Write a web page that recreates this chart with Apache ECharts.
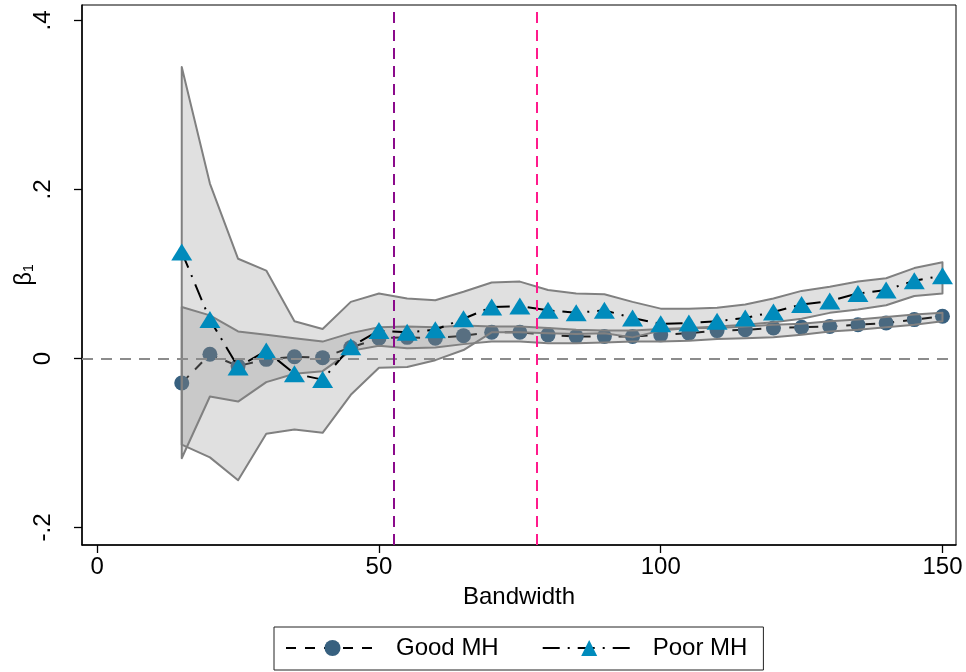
<!DOCTYPE html>
<html><head><meta charset="utf-8">
<script src="https://cdn.jsdelivr.net/npm/echarts@6/dist/echarts.min.js"></script>
<style>html,body{margin:0;padding:0;background:#fff}#c{width:966px;height:672px}</style>
</head><body><div id="c"></div>
<script>
const bandwidth = [15,20,25,30,35,40,45,50,55,60,65,70,75,80,85,90,95,100,105,110,115,120,125,130,135,140,145,150];
const goodMH    = [-0.029,0.005,-0.009,-0.001,0.002,0.001,0.013,0.024,0.025,0.024,0.027,0.031,0.031,0.028,0.026,0.026,0.026,0.028,0.030,0.033,0.034,0.036,0.037,0.038,0.040,0.042,0.046,0.050];
const poorMH    = [0.126,0.046,-0.010,0.009,-0.018,-0.025,0.014,0.033,0.031,0.034,0.047,0.061,0.062,0.057,0.054,0.057,0.048,0.041,0.042,0.044,0.048,0.055,0.064,0.068,0.077,0.081,0.092,0.098];
const goodUpper = [0.061,0.051,0.032,0.028,0.024,0.020,0.030,0.037,0.038,0.037,0.039,0.038,0.038,0.036,0.034,0.033,0.033,0.035,0.036,0.036,0.038,0.040,0.041,0.044,0.046,0.049,0.052,0.054];
const goodLower = [-0.118,-0.045,-0.051,-0.028,-0.018,-0.015,0.009,0.015,0.012,0.013,0.017,0.020,0.020,0.018,0.018,0.019,0.020,0.020,0.021,0.023,0.024,0.025,0.028,0.032,0.034,0.037,0.040,0.044];
const poorUpper = [0.345,0.207,0.118,0.104,0.044,0.035,0.067,0.077,0.071,0.069,0.079,0.090,0.091,0.081,0.077,0.076,0.067,0.059,0.059,0.060,0.064,0.071,0.080,0.085,0.091,0.095,0.107,0.114];
const poorLower = [-0.102,-0.117,-0.144,-0.089,-0.084,-0.088,-0.043,-0.011,-0.010,-0.002,0.010,0.031,0.031,0.030,0.029,0.030,0.025,0.033,0.036,0.038,0.040,0.043,0.047,0.054,0.058,0.063,0.074,0.077];
const xTicks = [0,50,100,150];
const yTicks = [-0.2,0,0.2,0.4];
const yTickLabels = ['-.2','0','.2','.4'];
const refLineLeft = 52.7;
const refLineRight = 78;
const seriesNames = ['Good MH','Poor MH'];

const FONT = "'Liberation Sans', Arial, Helvetica, sans-serif";
const chart = echarts.init(document.getElementById('c'), null, {renderer:'canvas'});

function band(lo, hi) {
  return {
    type:'custom', coordinateSystem:'cartesian2d', silent:true, z:3,
    data:[[bandwidth[0], lo[0]]], encode:{x:0,y:1},
    renderItem: function(params, api){
      const pts = [];
      for (let i=0;i<bandwidth.length;i++) pts.push(api.coord([bandwidth[i], hi[i]]));
      for (let i=bandwidth.length-1;i>=0;i--) pts.push(api.coord([bandwidth[i], lo[i]]));
      return {type:'polygon', shape:{points:pts},
        style:{fill:'rgba(130,130,130,0.25)', stroke:'#808080', lineWidth:2, lineJoin:'round'}};
    }
  };
}
const pairs = (ys) => bandwidth.map((x,i)=>[x, ys[i]]);

chart.setOption({
  backgroundColor:'#fff',
  animation:false,
  grid:{left:82, right:10, top:5, bottom:127, outerBoundsMode:'none', containLabel:false,
    show:true, borderColor:'#000', borderWidth:1, backgroundColor:'#fff'},
  xAxis:{
    type:'value', min:-2.7, max:152.4,
    name:'Bandwidth', nameLocation:'middle', nameGap:40, nameMoveOverlap:false,
    nameTextStyle:{fontSize:24, color:'#000', fontFamily:FONT},
    axisLine:{show:true, onZero:false, lineStyle:{color:'#000', width:1.5}},
    axisTick:{show:true, length:8, lineStyle:{color:'#000', width:1.3}, customValues:xTicks},
    axisLabel:{fontSize:24, color:'#000', fontFamily:FONT, margin:10, customValues:xTicks},
    splitLine:{show:false}
  },
  yAxis:{
    type:'value', min:-0.2207, max:0.4183,
    name:'{b|β}{s|1}', nameLocation:'middle', nameGap:46, nameRotate:90, nameMoveOverlap:false,
    nameTextStyle:{rich:{
      b:{fontSize:24, color:'#000', fontFamily:FONT},
      s:{fontSize:14, color:'#000', fontFamily:FONT, padding:[10,0,0,0]}
    }},
    axisLine:{show:true, onZero:false, lineStyle:{color:'#000', width:1.5}},
    axisTick:{show:true, length:8, lineStyle:{color:'#000', width:1.3}, customValues:yTicks},
    axisLabel:{fontSize:24, color:'#000', fontFamily:FONT, margin:27, rotate:90, customValues:yTicks,
      formatter:(v)=>{ const i = yTicks.findIndex(t=>Math.abs(t-v)<1e-9); return i>=0?yTickLabels[i]:''; }},
    splitLine:{show:false}
  },
  legend:{
    data:seriesNames, left:274, top:627,
    padding:[9,16,10,11], itemWidth:93, itemHeight:20, itemGap:43,
    borderColor:'#222', borderWidth:1,
    textStyle:{fontSize:24, color:'#000', fontFamily:FONT, padding:[0,0,0,12]}
  },
  series:[
    {
      name:seriesNames[0], type:'line', z:2, data:pairs(goodMH),
      symbol:'circle', symbolSize:15,
      itemStyle:{color:'#37607f'},
      lineStyle:{color:'#000', width:2, type:[10,9]}
    },
    band(goodLower, goodUpper),
    band(poorLower, poorUpper),
    {
      type:'line', z:3, data:pairs(goodMH), symbol:'none', silent:true,
      lineStyle:{opacity:0},
      markLine:{silent:true, symbol:'none', label:{show:false}, animation:false,
        data:[
          {yAxis:0, lineStyle:{color:'#8c8c8c', width:2, type:[11,8]}},
          {xAxis:refLineLeft, lineStyle:{color:'#8b0a8b', width:2, type:[11,7]}},
          {xAxis:refLineRight, lineStyle:{color:'#ff1a8c', width:2, type:[11,7]}}
        ]}
    },
    {
      name:seriesNames[1], type:'line', z:4, data:pairs(poorMH),
      symbol:'triangle', symbolSize:[21,17],
      itemStyle:{color:'#008bbc'},
      lineStyle:{color:'#000', width:2, type:[17,8,2,8]}
    }
  ]
});
</script></body></html>
